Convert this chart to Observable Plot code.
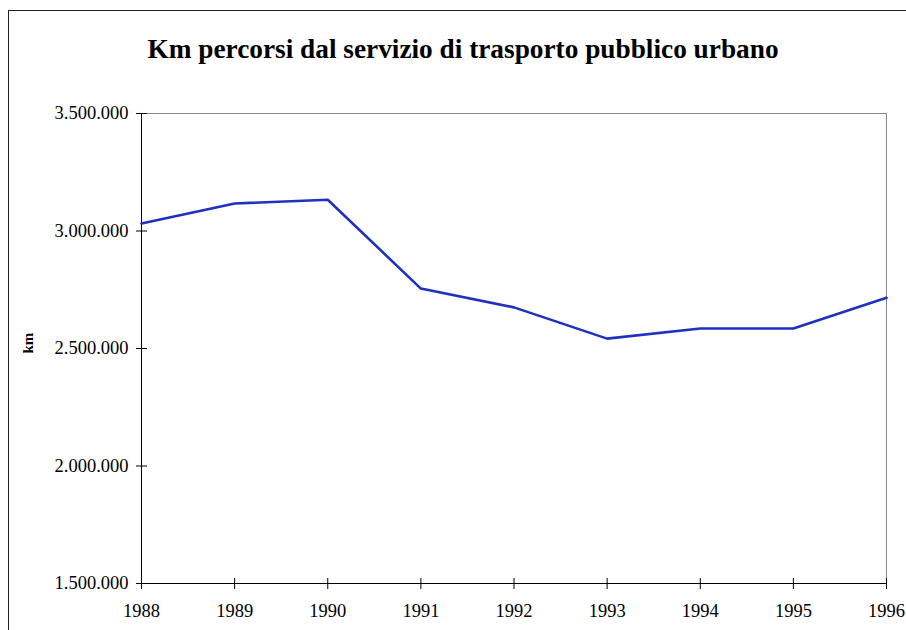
<!DOCTYPE html>
<html>
<head>
<meta charset="utf-8">
<script src="https://cdn.jsdelivr.net/npm/d3@7"></script>
<script src="https://cdn.jsdelivr.net/npm/@observablehq/plot@0.6"></script>
<style>
  html, body { margin: 0; padding: 0; background: #fff; overflow: hidden; }
  #wrap { position: relative; width: 906px; height: 630px; }
  #border { position: absolute; left: 8px; top: 10px; width: 920px; height: 640px; border: 1px solid #222; box-sizing: border-box; pointer-events: none; }
  svg text { font-family: "Liberation Serif", "Times New Roman", serif !important; }
</style>
</head>
<body>
<div id="wrap"><div id="border"></div></div>
<script>
const title = "Km percorsi dal servizio di trasporto pubblico urbano";
const yLabel = "km";
const years = [1988, 1989, 1990, 1991, 1992, 1993, 1994, 1995, 1996];
const km = [3032000, 3117000, 3133000, 2755000, 2675000, 2542000, 2585000, 2585000, 2716000];
const yTicks = [1500000, 2000000, 2500000, 3000000, 3500000];

const data = years.map((y, i) => ({year: y, km: km[i]}));
const fmt = d3.formatLocale({decimal: ",", thousands: ".", grouping: [3], currency: ["", ""]}).format(",");
const yMin = yTicks[0], yMax = yTicks[yTicks.length - 1];

const chart = Plot.plot({
  width: 906,
  height: 630,
  marginLeft: 141,
  marginRight: 20,
  marginTop: 113,
  marginBottom: 47,
  style: {fontFamily: "Liberation Serif, serif", background: "transparent", overflow: "visible"},
  x: {domain: [years[0], years[years.length - 1]], axis: null},
  y: {domain: [yMin, yMax], axis: null},
  marks: [
    Plot.frame({stroke: "#888"}),
    Plot.ruleX([years[0]], {stroke: "#000"}),
    Plot.ruleY([yMin], {stroke: "#000"}),
    Plot.ruleY(yTicks, {y: d => d, x1: years[0], x2: years[0], insetLeft: -5, insetRight: -6, stroke: "#000"}),
    Plot.ruleX(years, {x: d => d, y1: yMin, y2: yMin, insetTop: -5, insetBottom: -6, stroke: "#000"}),
    Plot.text(years, {x: d => d, frameAnchor: "bottom", dy: 28, text: d => String(d), fontSize: 18.5, fill: "#000", lineAnchor: "middle"}),
    Plot.text(yTicks, {y: d => d, frameAnchor: "left", dx: -13, text: d => fmt(d), textAnchor: "end", fontSize: 18.5, fill: "#000", lineAnchor: "middle"}),
    Plot.line(data, {x: "year", y: "km", stroke: "#2030c0", strokeWidth: 2.6}),
    Plot.text([title], {frameAnchor: "top", dx: -51, dy: -56, fontSize: 27.3, fontWeight: "bold", fill: "#000", lineAnchor: "bottom"}),
    Plot.text([yLabel], {frameAnchor: "left", dx: -113, dy: 5, rotate: -90, fontSize: 15, fontWeight: "bold", fill: "#000", lineAnchor: "middle"})
  ]
});
document.getElementById("wrap").prepend(chart);
</script>
</body>
</html>
